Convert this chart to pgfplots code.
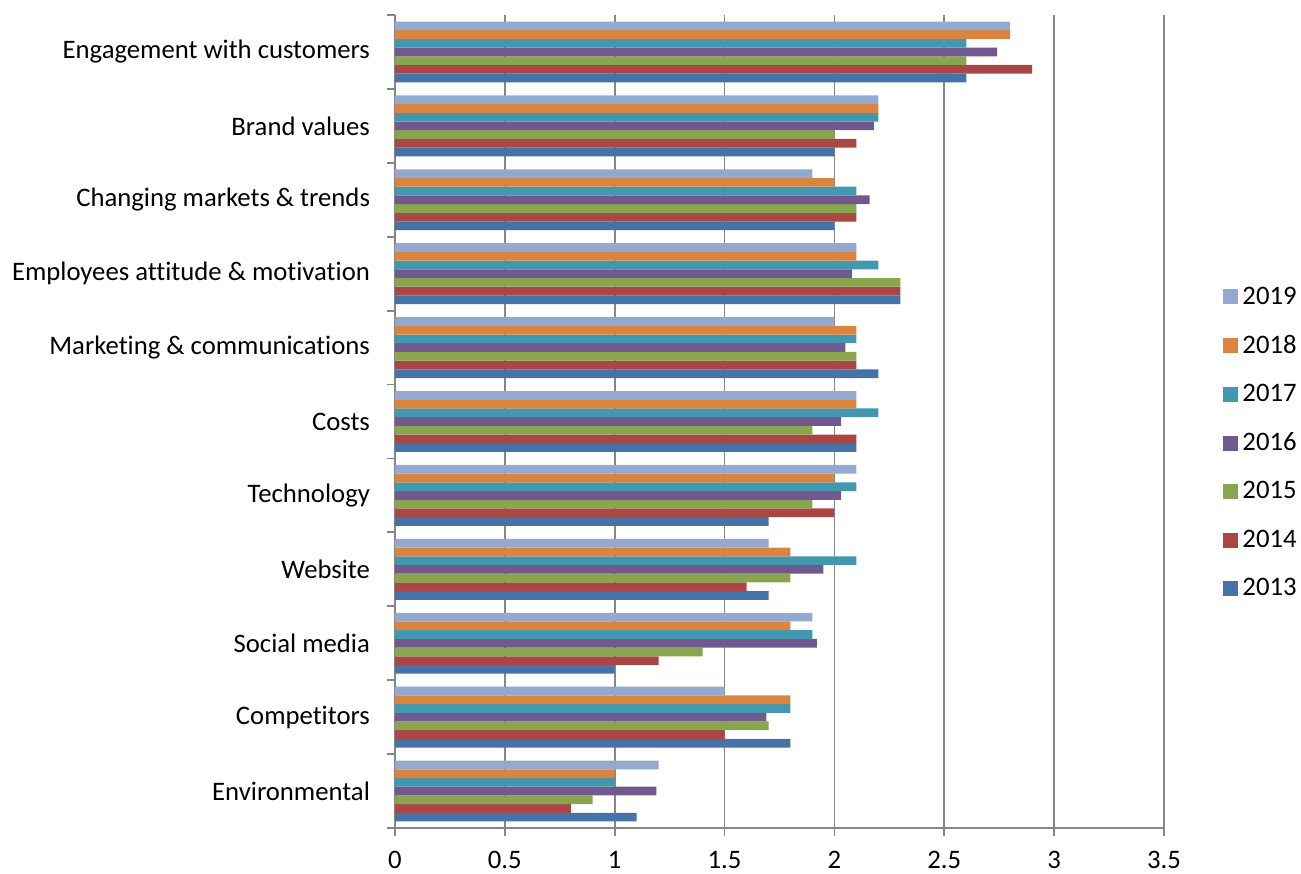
\documentclass[border=0pt]{standalone}
\usepackage{fontspec}
\setmainfont{Carlito}[Ligatures=CommonOff]
\usepackage{pgfplots}
\pgfplotsset{compat=1.18}
\definecolor{c13}{HTML}{4572A7}
\definecolor{c14}{HTML}{AA4643}
\definecolor{c15}{HTML}{89A54E}
\definecolor{c16}{HTML}{71588F}
\definecolor{c17}{HTML}{4198AF}
\definecolor{c18}{HTML}{DB843D}
\definecolor{c19}{HTML}{93A9CF}
\definecolor{axisgray}{HTML}{868686}
\begin{document}
\begin{tikzpicture}
\begin{axis}[
  scale only axis, width=384.5pt, height=406.5pt,
  xbar, bar width=0.11765,
  xmin=0, xmax=3.5, ymin=-0.5, ymax=10.5,
  axis lines=left,
  axis line style={-, draw=axisgray, line width=0.9pt},
  tick style={draw=axisgray, line width=0.9pt},
  tick align=outside, major tick length=4pt,
  xtick={0,0.5,1,1.5,2,2.5,3,3.5},
  xticklabels={0,0.5,1,1.5,2,2.5,3,3.5},
  xmajorgrids, major grid style={draw=axisgray, line width=0.9pt},
  ytick={-0.5,0.5,1.5,2.5,3.5,4.5,5.5,6.5,7.5,8.5,9.5,10.5},
  yticklabels={},
  extra y ticks={0,1,2,3,4,5,6,7,8,9,10},
  extra y tick labels={Environmental,Competitors,Social media,Website,Technology,Costs,Marketing \& communications,Employees attitude \& motivation,Changing markets \& trends,Brand values,Engagement with customers},
  extra y tick style={major tick length=0pt, yticklabel style={xshift=-9pt}},
  tick label style={font=\fontsize{13.35}{15}\selectfont},
  x tick label style={inner ysep=0pt, yshift=-7.5pt},
  /pgf/number format/assume math mode=true,
  clip=false,
  reverse legend,
  legend style={draw=none, at={(1.069,0.474)}, anchor=west,
    font=\fontsize{13.35}{15}\selectfont, row sep=10pt,
    cells={anchor=west}},
  legend image code/.code={\fill[#1] (0pt,-3.75pt) rectangle (7.5pt,3.75pt);},
]
\addplot[fill=c13, draw=none, bar shift=-0.35294] coordinates {(1.1,0) (1.8,1) (1.0,2) (1.7,3) (1.7,4) (2.1,5) (2.2,6) (2.3,7) (2.0,8) (2.0,9) (2.6,10)};
\addplot[fill=c14, draw=none, bar shift=-0.23529] coordinates {(0.8,0) (1.5,1) (1.2,2) (1.6,3) (2.0,4) (2.1,5) (2.1,6) (2.3,7) (2.1,8) (2.1,9) (2.9,10)};
\addplot[fill=c15, draw=none, bar shift=-0.11765] coordinates {(0.9,0) (1.7,1) (1.4,2) (1.8,3) (1.9,4) (1.9,5) (2.1,6) (2.3,7) (2.1,8) (2.0,9) (2.6,10)};
\addplot[fill=c16, draw=none, bar shift=0] coordinates {(1.19,0) (1.69,1) (1.92,2) (1.95,3) (2.03,4) (2.03,5) (2.05,6) (2.08,7) (2.16,8) (2.18,9) (2.74,10)};
\addplot[fill=c17, draw=none, bar shift=0.11765] coordinates {(1.0,0) (1.8,1) (1.9,2) (2.1,3) (2.1,4) (2.2,5) (2.1,6) (2.2,7) (2.1,8) (2.2,9) (2.6,10)};
\addplot[fill=c18, draw=none, bar shift=0.23529] coordinates {(1.0,0) (1.8,1) (1.8,2) (1.8,3) (2.0,4) (2.1,5) (2.1,6) (2.1,7) (2.0,8) (2.2,9) (2.8,10)};
\addplot[fill=c19, draw=none, bar shift=0.35294] coordinates {(1.2,0) (1.5,1) (1.9,2) (1.7,3) (2.1,4) (2.1,5) (2.0,6) (2.1,7) (1.9,8) (2.2,9) (2.8,10)};
\legend{2013,2014,2015,2016,2017,2018,2019}
\coordinate (bl) at (rel axis cs:0,0);
\coordinate (tr) at (rel axis cs:1,1);
\end{axis}
\pgfresetboundingbox
\path ([xshift=-197.5pt,yshift=-22.5pt]bl) rectangle ([xshift=68.5pt,yshift=7.5pt]tr);
\end{tikzpicture}
\end{document}
